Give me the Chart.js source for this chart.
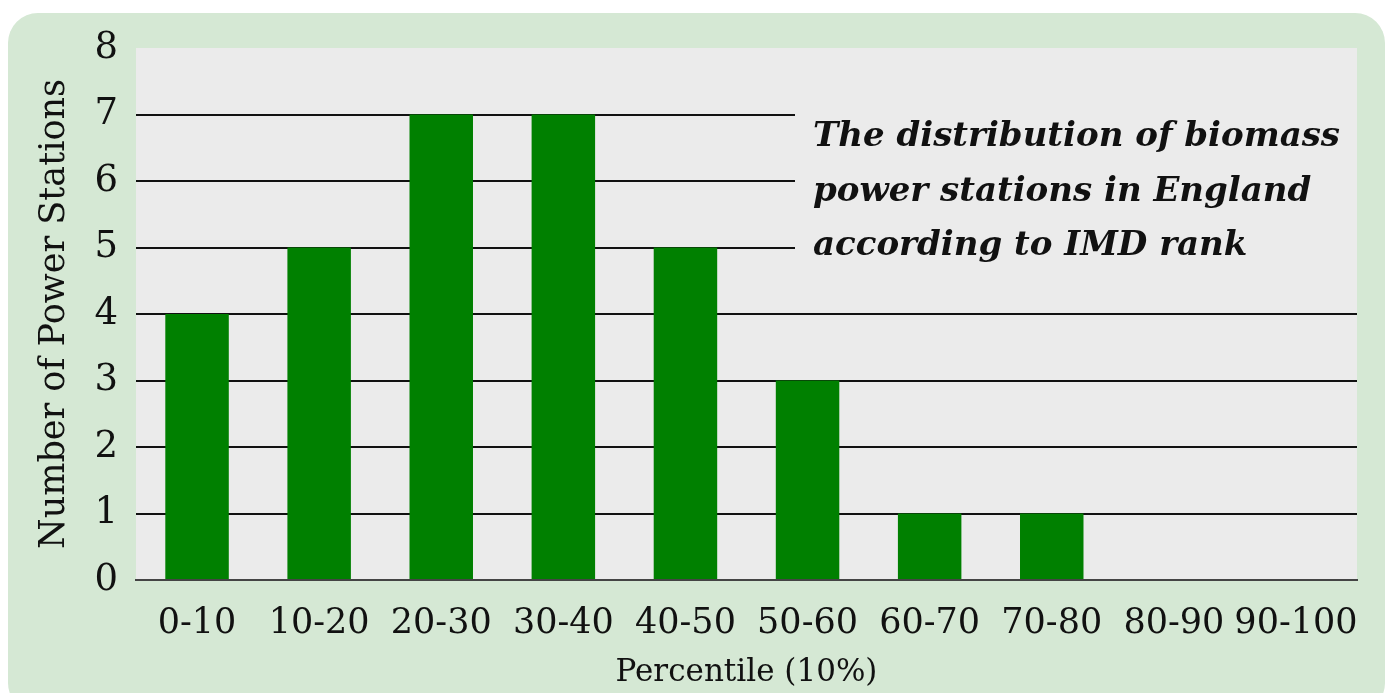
<!DOCTYPE html>
<html>
<head>
<meta charset="utf-8">
<script src="https://cdn.jsdelivr.net/npm/chart.js@4/dist/chart.umd.min.js"></script>
<style>
  html, body { margin: 0; padding: 0; background: #fff; }
  canvas { display: block; }
</style>
</head>
<body>
<canvas id="chart" width="1392" height="693"></canvas>
<script>
const percentiles = ['0-10', '10-20', '20-30', '30-40', '40-50', '50-60', '60-70', '70-80', '80-90', '90-100'];
const stationCounts = [4, 5, 7, 7, 5, 3, 1, 1, 0, 0];
const titleLines = ['The distribution of biomass', 'power stations in England', 'according to IMD rank'];
const xTitle = 'Percentile (10%)';
const yTitle = 'Number of Power Stations';

const serif = "'DejaVu Serif', 'Liberation Serif', serif";

// green card behind everything + grey plot area
const backdrop = {
  id: 'backdrop',
  beforeDraw(chart) {
    const ctx = chart.ctx;
    const a = chart.chartArea;
    ctx.save();
    ctx.fillStyle = '#d5e8d4';
    ctx.beginPath();
    ctx.roundRect(8, 13, 1377, 700, 30);
    ctx.fill();
    ctx.fillStyle = '#ebebeb';
    ctx.fillRect(a.left, a.top, a.right - a.left, a.bottom - a.top);
    ctx.restore();
  }
};

// title box sits on top of the grid lines, inside the plot
const titleBox = {
  id: 'titleBox',
  beforeDatasetsDraw(chart) {
    const ctx = chart.ctx;
    const a = chart.chartArea;
    const y = chart.scales.y;
    ctx.save();
    ctx.fillStyle = '#ebebeb';
    ctx.fillRect(795, y.getPixelForValue(7.4), a.right - 795, y.getPixelForValue(4.4) - y.getPixelForValue(7.4));
    ctx.fillStyle = '#111';
    ctx.font = "italic bold 34px " + serif;
    ctx.textBaseline = 'alphabetic';
    titleLines.forEach((t, i) => ctx.fillText(t, 813, 146 + i * 54.5));
    ctx.restore();
  }
};

new Chart(document.getElementById('chart'), {
  type: 'bar',
  data: {
    labels: percentiles,
    datasets: [{
      data: stationCounts,
      backgroundColor: '#008000',
      borderWidth: 0,
      barPercentage: 0.52,
      categoryPercentage: 1
    }]
  },
  options: {
    responsive: false,
    animation: false,
    layout: { padding: { top: 48, right: 35, bottom: 0, left: 0 } },
    plugins: { legend: { display: false }, tooltip: { enabled: false } },
    scales: {
      x: {
        afterFit: s => { s.height = 113; },
        grid: { display: false },
        border: { display: true, color: '#444', width: 2 },
        ticks: { color: '#111', font: { family: serif, size: 35 }, padding: 15, maxRotation: 0, autoSkip: false },
        title: { display: true, text: xTitle, color: '#111', font: { family: serif, size: 31 }, padding: { top: 0, bottom: 1 } }
      },
      y: {
        min: 0,
        max: 8,
        afterFit: s => { s.width = 136; },
        ticks: { stepSize: 1, color: '#111', font: { family: serif, size: 37 }, padding: 18 },
        grid: {
          drawTicks: false,
          lineWidth: 2,
          color: c => (c.tick && (c.tick.value === 8 || c.tick.value === 0)) ? 'rgba(0,0,0,0)' : '#111'
        },
        border: { display: false },
        title: { display: true, text: yTitle, color: '#111', font: { family: serif, size: 35 }, padding: { top: 34, bottom: 0 } }
      }
    }
  },
  plugins: [backdrop, titleBox]
});
</script>
</body>
</html>
